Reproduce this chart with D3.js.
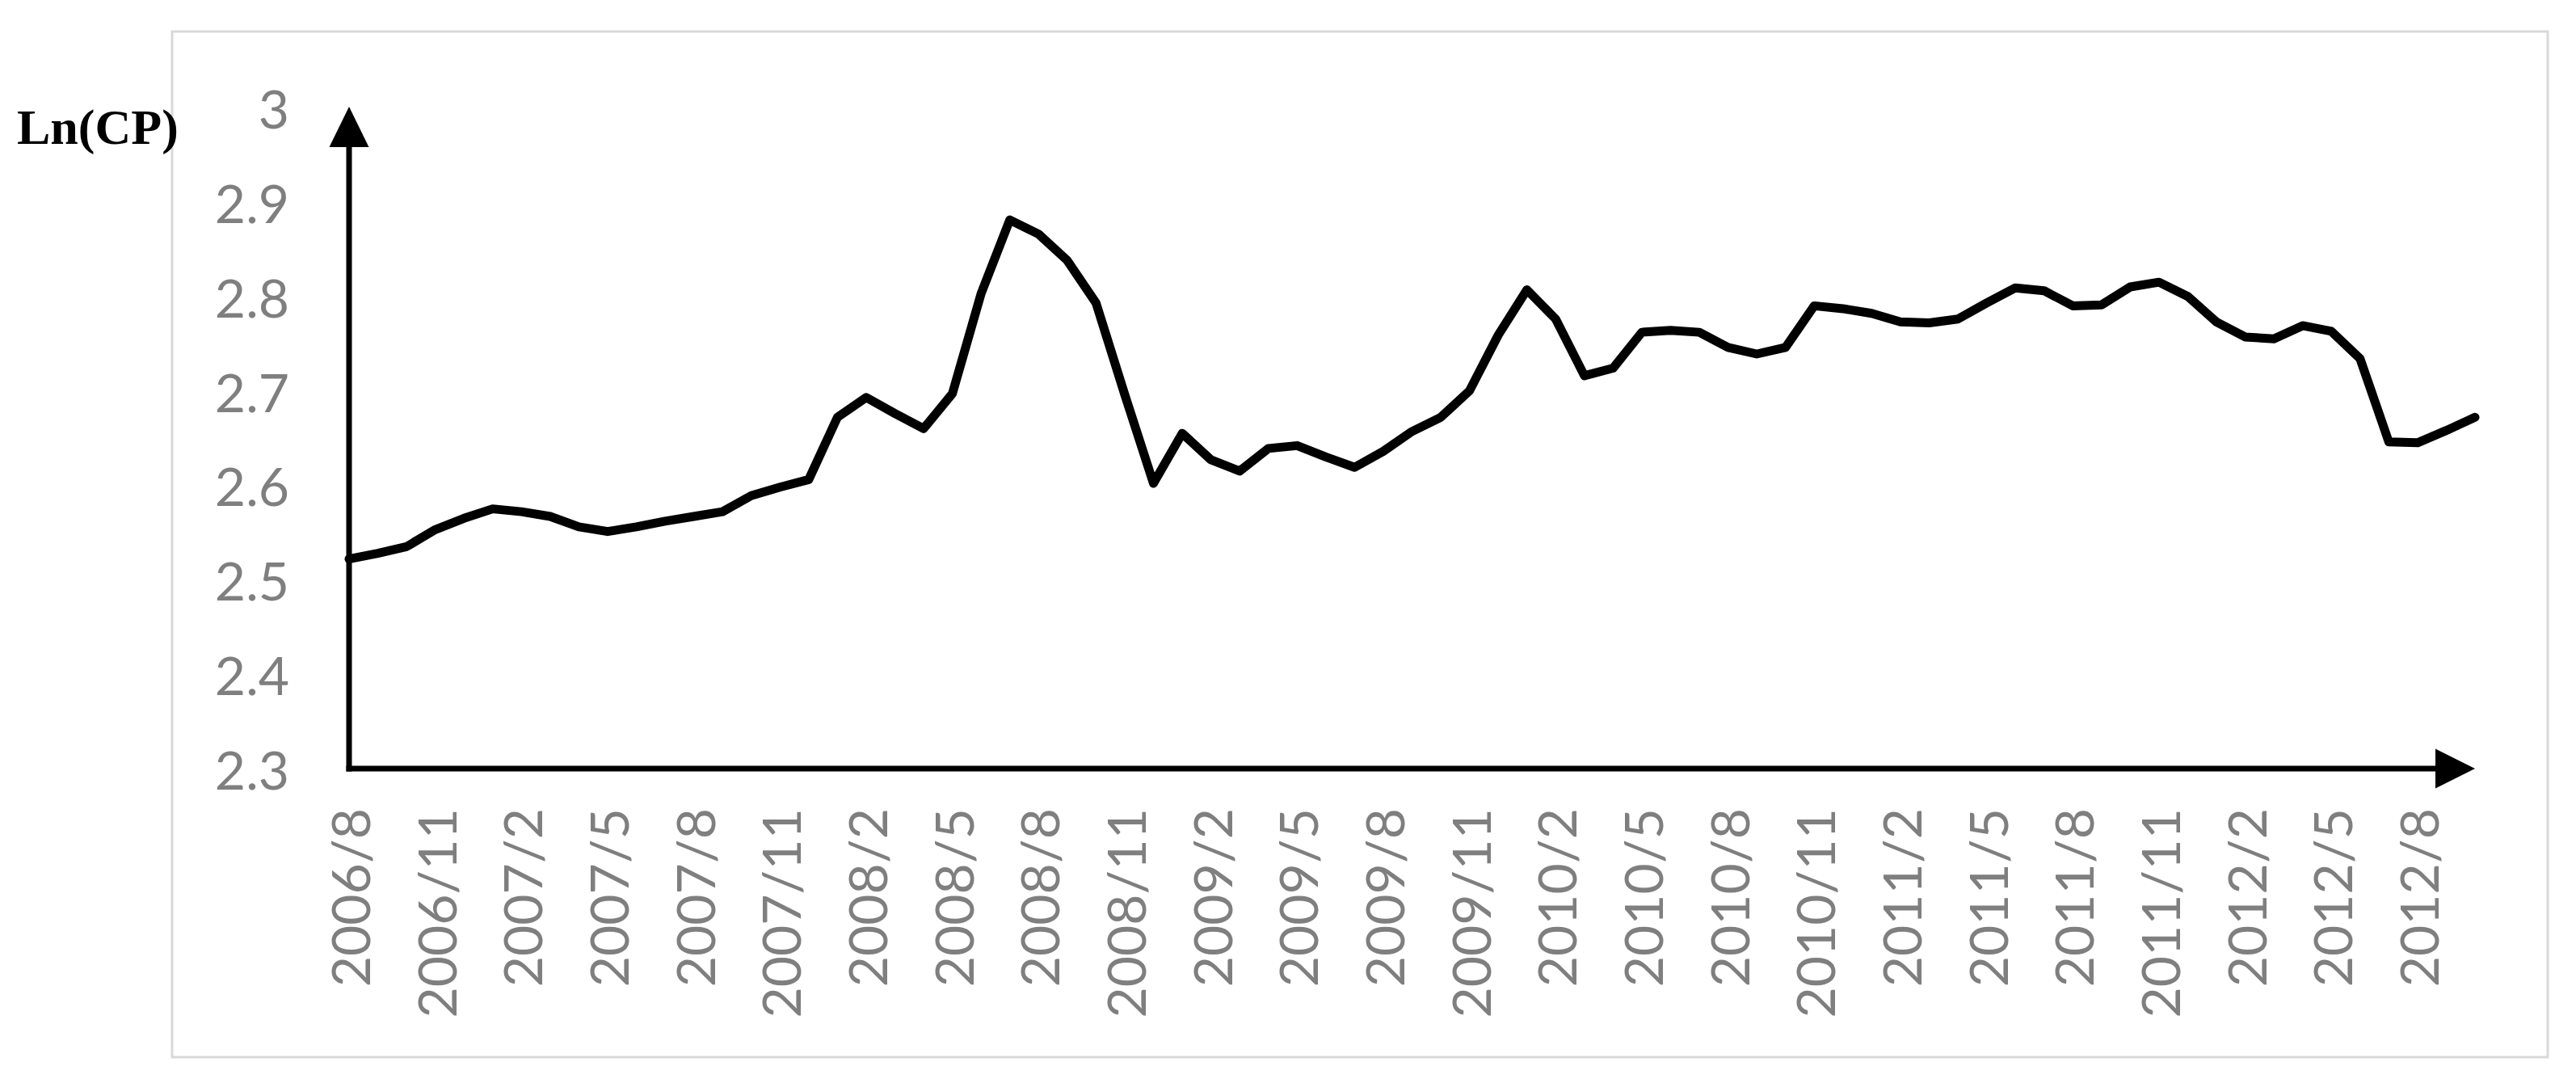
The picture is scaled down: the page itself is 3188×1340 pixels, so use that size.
<!DOCTYPE html>
<html>
<head>
<meta charset="utf-8">
<script src="https://cdn.jsdelivr.net/npm/d3@7.9.0/dist/d3.min.js"></script>
<style>
  body { margin: 0; background: #fff; }
  svg { display: block; }
</style>
</head>
<body>
<svg id="chart" width="3188" height="1340"></svg>
<script>
// monthly categories, 2006/8 .. 2012/10
const months = [
  '2006/8','2006/9','2006/10','2006/11','2006/12',
  '2007/1','2007/2','2007/3','2007/4','2007/5','2007/6','2007/7','2007/8','2007/9','2007/10','2007/11','2007/12',
  '2008/1','2008/2','2008/3','2008/4','2008/5','2008/6','2008/7','2008/8','2008/9','2008/10','2008/11','2008/12',
  '2009/1','2009/2','2009/3','2009/4','2009/5','2009/6','2009/7','2009/8','2009/9','2009/10','2009/11','2009/12',
  '2010/1','2010/2','2010/3','2010/4','2010/5','2010/6','2010/7','2010/8','2010/9','2010/10','2010/11','2010/12',
  '2011/1','2011/2','2011/3','2011/4','2011/5','2011/6','2011/7','2011/8','2011/9','2011/10','2011/11','2011/12',
  '2012/1','2012/2','2012/3','2012/4','2012/5','2012/6','2012/7','2012/8','2012/9','2012/10'
];

// Ln(CP) values
const lnCP = [
  2.522, 2.528, 2.535, 2.553, 2.565,
  2.575, 2.572, 2.567, 2.556, 2.551, 2.556, 2.562, 2.567, 2.572, 2.589, 2.598, 2.606,
  2.672, 2.693, 2.676, 2.660, 2.697, 2.803, 2.881, 2.866, 2.838, 2.793, 2.696, 2.602,
  2.655, 2.627, 2.615, 2.639, 2.642, 2.630, 2.619, 2.636, 2.657, 2.672, 2.700, 2.759,
  2.807, 2.776, 2.716, 2.724, 2.762, 2.764, 2.762, 2.746, 2.739, 2.746, 2.790, 2.787,
  2.782, 2.773, 2.772, 2.776, 2.793, 2.809, 2.806, 2.790, 2.791, 2.810, 2.815, 2.800,
  2.773, 2.757, 2.755, 2.769, 2.763, 2.734, 2.646, 2.645, 2.658, 2.672
];

const xTickLabels = [
  '2006/8','2006/11','2007/2','2007/5','2007/8','2007/11','2008/2','2008/5','2008/8',
  '2008/11','2009/2','2009/5','2009/8','2009/11','2010/2','2010/5','2010/8','2010/11',
  '2011/2','2011/5','2011/8','2011/11','2012/2','2012/5','2012/8'
];
const yTicks = [2.3, 2.4, 2.5, 2.6, 2.7, 2.8, 2.9, 3];

const svg = d3.select('#chart');
const labelFont = 'Lato, "Open Sans", sans-serif';
const grey = '#7f7f7f';

// outer chart frame
svg.append('rect')
  .attr('x', 213).attr('y', 39)
  .attr('width', 2940).attr('height', 1269)
  .attr('fill', '#fff')
  .attr('stroke', '#d9d9d9')
  .attr('stroke-width', 3);

let x = d3.scalePoint().domain(months).range([432, 3063]);
let y = d3.scaleLinear().domain([2.3, 3]).range([951, 133]);

// y tick labels
let yAxis = svg.append('g')
  .attr('transform', `translate(${x.range()[0]},0)`)
  .call(d3.axisLeft(y).tickValues(yTicks).tickSize(0).tickPadding(74)
    .tickFormat(d => d3.format('')(d)));
yAxis.select('.domain').remove();
yAxis.selectAll('text')
  .attr('dy', null)
  .attr('dominant-baseline', 'central')
  .style('font-family', labelFont)
  .style('font-size', '66px')
  .attr('fill', grey);

// x tick labels, rotated
let xAxis = svg.append('g')
  .attr('transform', `translate(0,${y(2.3)})`)
  .call(d3.axisBottom(x).tickValues(xTickLabels).tickSize(0));
xAxis.select('.domain').remove();
xAxis.selectAll('text')
  .attr('transform', 'rotate(-90)')
  .attr('text-anchor', 'end')
  .attr('x', -49)
  .attr('y', 0)
  .attr('dy', null)
  .attr('dominant-baseline', 'central')
  .style('font-family', labelFont)
  .style('font-size', '66px')
  .attr('fill', grey);

// axis lines with arrow heads
const x0 = x.range()[0], x1 = x.range()[1];
const yBase = y(2.3), yTop = y(3);
const head = 49;
svg.append('line')
  .attr('x1', x0).attr('y1', yBase + 3.5)
  .attr('x2', x0).attr('y2', yTop + head)
  .attr('stroke', '#000').attr('stroke-width', 7);
svg.append('path')
  .attr('d', `M${x0 - head / 2},${yTop + head} L${x0},${yTop - 1} L${x0 + head / 2},${yTop + head} Z`)
  .attr('fill', '#000');
svg.append('line')
  .attr('x1', x0 - 3.5).attr('y1', yBase)
  .attr('x2', x1 - head).attr('y2', yBase)
  .attr('stroke', '#000').attr('stroke-width', 7);
svg.append('path')
  .attr('d', `M${x1 - head},${yBase - head / 2} L${x1},${yBase} L${x1 - head},${yBase + head / 2} Z`)
  .attr('fill', '#000');

// the series
let line = d3.line()
  .x((d, i) => x(months[i]))
  .y(d => y(d));
svg.append('path')
  .datum(lnCP)
  .attr('d', line)
  .attr('fill', 'none')
  .attr('stroke', '#000')
  .attr('stroke-width', 11)
  .attr('stroke-linejoin', 'round')
  .attr('stroke-linecap', 'round');

// axis title
svg.append('text')
  .attr('x', 21).attr('y', 178)
  .style('font-family', '"Liberation Serif", "Times New Roman", serif')
  .style('font-weight', 'bold')
  .style('font-size', '62px')
  .attr('fill', '#000')
  .text('Ln(CP)');
</script>
</body>
</html>
